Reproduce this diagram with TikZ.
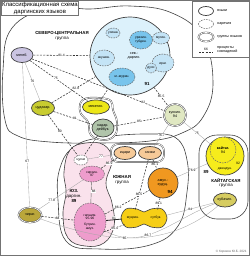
\documentclass[tikz,border=0pt]{standalone}
\usepackage{fontspec}
\setmainfont{Liberation Sans}
\usetikzlibrary{shapes.geometric, positioning, calc}

\definecolor{megebfill}{RGB}{202,196,226}
\definecolor{cudfill}{RGB}{200,204,48}
\definecolor{mekegfill}{RGB}{236,230,24}
\definecolor{kadarfill}{RGB}{176,196,170}
\definecolor{lgreenfill}{RGB}{224,232,194}
\definecolor{northfill}{RGB}{220,241,251}
\definecolor{dialfill}{RGB}{120,196,236}
\definecolor{diallight}{RGB}{196,228,246}
\definecolor{chiragfill}{RGB}{186,166,58}
\definecolor{peachfill}{RGB}{246,202,152}
\definecolor{orangefill}{RGB}{240,152,32}
\definecolor{nutfill}{RGB}{246,206,22}
\definecolor{swfill}{RGB}{250,226,236}
\definecolor{pinkfill}{RGB}{238,156,204}
\definecolor{kaitagfill}{RGB}{246,236,28}
\definecolor{kubfill}{RGB}{214,204,96}

\newcommand{\lblfont}{\fontsize{10.5}{11.5}\selectfont}
\newcommand{\dlfont}{\fontsize{9.5}{10.5}\selectfont}
\newcommand{\pctfont}{\fontsize{9.5}{10}\selectfont}
\newcommand{\grpfont}{\fontsize{12.5}{14}\selectfont}
\newcommand{\legfont}{\fontsize{10.5}{11.5}\selectfont}
\newcommand{\ttlfont}{\fontsize{17}{19}\selectfont}

\begin{document}
\begin{tikzpicture}[x=1mm, y=1mm,
    lang/.style={ellipse, draw=black!75, line width=0.7mm, inner sep=0pt, align=center, font=\lblfont},
    dial/.style={ellipse, draw=black!60, line width=0.5mm, dash pattern=on 1.6mm off 1mm, inner sep=0pt, align=center, font=\dlfont},
    dbl/.style={draw=black!70, line width=0.45mm, double=white, double distance=0.7mm},
    grp/.style={draw=black!75, line width=0.6mm},
    link/.style={draw=black!80, line width=0.55mm, dash pattern=on 2mm off 1.3mm},
    faint/.style={draw=black!35, line width=0.35mm},
    bond/.style={draw=black!85, line width=0.8mm},
    pct/.style={font=\pctfont, fill=white, inner sep=0.3mm},
    glabel/.style={font=\grpfont, align=center}
]
\useasboundingbox (0,0) rectangle (250,-256);

% ==================== Frame and group outlines ====================
\draw[black!55, line width=1mm] (0.5,-0.5) rectangle (249.5,-255.5);

\draw[grp] plot[smooth cycle, tension=0.7] coordinates {(5,-120) (3,-70) (12,-28) (50,-8) (90,-9) (130,-6) (172,-13) (203,-38) (213,-83) (203,-117) (182,-133) (150,-141) (100,-143) (50,-142) (18,-136)};
\draw[grp] plot[smooth cycle, tension=0.7] coordinates {(58,-200) (60,-168) (75,-146) (105,-137) (150,-134) (176,-138) (187,-160) (187,-192) (178,-226) (150,-245) (100,-249) (66,-241)};
\draw[grp, fill=swfill] plot[smooth cycle, tension=0.7] coordinates {(64,-172) (70,-150) (86,-143) (104,-145) (112,-160) (106,-183) (112,-203) (114,-226) (104,-243) (85,-246) (68,-238) (63,-215) (66,-192)};
\draw[grp, rounded corners=18mm] (199,-135) rectangle (248,-219);
\draw[dbl, fill=white] plot[smooth cycle, tension=0.7] coordinates {(80,-104) (86,-98.5) (100,-98) (111,-101) (113,-110) (117,-122) (115,-135) (104,-140) (91,-135) (88,-122) (81,-114)};
\draw[dbl, fill=white, rounded corners=7mm] (111,-144) rectangle (164,-162);
\draw[grp, fill=nutfill] plot[smooth cycle, tension=0.6] coordinates {(121,-218) (126,-209) (137,-209) (144,-212) (151,-209) (162,-209) (167,-218) (162,-227) (151,-227) (144,-224) (137,-227) (126,-227)};

% ==================== North-central group ====================
\node[glabel] (nclbl) at (62,-36) {\textbf{СЕВЕРО-ЦЕНТРАЛЬНАЯ}\\группа};
\node[lang, fill=megebfill, minimum width=22mm, minimum height=15mm] (megeb) at (22,-55) {мегеб.};

\node[lang, fill=northfill, minimum width=80mm, minimum height=78mm] (north) at (130,-56) {};
\node[font=\lblfont, align=center] (northlbl) at (134,-56) {сев.-\\даргин.};
\node[font=\grpfont\bfseries] (north91) at (147,-84) {91};
\node[dial, fill=diallight, minimum width=14mm, minimum height=10mm] (usish) at (113,-33) {усиша};
\node[dial, fill=dialfill, minimum width=23mm, minimum height=18mm] (urakh) at (141,-40) {урахин.\\губден.};
\node[dial, fill=diallight, minimum width=17mm, minimum height=12mm] (mugin) at (161,-38) {мугин.};
\node[dial, fill=diallight, minimum width=21mm, minimum height=16mm] (akush) at (104,-58) {акушин.};
\node[dial, fill=dialfill, minimum width=26mm, minimum height=18mm] (muer) at (122,-77) {м.-мурин.};
\node[dial, fill=diallight, minimum width=22mm, minimum height=18mm] (irag) at (163,-63) {\\ираг.};
\node[dial, fill=diallight, minimum width=11mm, minimum height=10mm] (dusi) at (151,-68) {дуси};

\node[lang, fill=cudfill, minimum width=23mm, minimum height=15mm] (cudakh) at (43,-108) {цудахар.};
\node[lang, fill=mekegfill, minimum width=27mm, minimum height=14mm] (mekeg) at (96,-107) {мекегин.};
\node[lang, fill=kadarfill, minimum width=22mm, minimum height=18mm] (kadar) at (103,-128) {кадар.\\дейбук.};
\node[lang, dbl, fill=lgreenfill, minimum size=22mm] (kunki) at (175,-115) {кункин.\\94};

% ==================== Southern group ====================
\node[glabel] (southlbl) at (122,-180) {\textbf{ЮЖНАЯ}\\группа};
\node[lang, fill=peachfill, minimum width=22mm, minimum height=13mm] (icari) at (125,-153) {ицари};
\node[lang, fill=peachfill, minimum width=23mm, minimum height=13mm] (sanzh) at (150,-153) {санжи};
\node[lang, fill=orangefill, minimum size=30mm] (amukh) at (163,-183) {амух.-\\худуц.};
\node[font=\grpfont\bfseries] (amukh94) at (170,-192) {94};
\node[ellipse, inner sep=0pt, minimum width=22mm, minimum height=17mm, font=\dlfont] (nutL) at (133,-218) {муэрин.};
\node[ellipse, inner sep=0pt, minimum width=22mm, minimum height=17mm, font=\dlfont] (nutR) at (156,-218) {сутбук.};

\node[glabel] (swlbl) at (74,-196) {\textbf{ЮЗ.}\\даргин.\\\textbf{89}};
\node[dial, fill=white, minimum width=14mm, minimum height=10mm] (cugni) at (81,-160) {цугни};
\node[dial, fill=pinkfill, minimum width=25mm, minimum height=16mm] (sirkh) at (92,-174) {сирхин.\\97};
\node[dial, fill=pinkfill, minimum width=32mm, minimum height=38mm] (hudutz) at (90,-222) {гапшим.\\95-96\\[2mm]бутрин.\\амух.};

% ==================== Kaitag group ====================
\node[lang, fill=kaitagfill, minimum size=38mm] (kaitag) at (225,-156) {};
\node[dial, fill=kaitagfill, minimum size=26mm, font=\lblfont] (kaitagd) at (223,-150) {\textbf{кайтаг.}\\94};
\node[font=\pctfont] (kaitag92) at (238,-163) {92};
\node[font=\dlfont] (dzhend) at (225,-169) {джендун.};
\node[glabel] (kaitaglbl) at (226,-183) {\textbf{КАЙТАГСКАЯ}\\группа};
\node[font=\grpfont\bfseries] (kaitag89) at (206,-172) {89};
\node[lang, fill=kubfill, minimum width=23mm, minimum height=14mm] (kubach) at (225,-200) {кубачин.};

% ==================== Isolated ====================
\node[lang, dbl, fill=chiragfill, minimum width=23mm, minimum height=15mm] (chirag) at (30,-215) {чираг.};

% ==================== Links ====================
\draw[link] (megeb) -- (north) node[pct, pos=0.5] {81.4};
\draw[link] (megeb) -- (mekeg) node[pct, pos=0.45] {75};
\draw[faint] (megeb) -- (cudakh) node[pct, pos=0.5] {76};
\draw[faint] (megeb) -- (chirag) node[pct, pos=0.68] {67};
\draw[link] (megeb) -- (kunki) node[pct, pos=0.84] {82};
\draw[link] (cudakh) -- (north) node[pct, pos=0.55] {82.8};
\draw[link] (mekeg) -- (north);
\draw[link] (cudakh) -- (kadar) node[pct, pos=0.55] {81};
\draw[link] (cudakh) -- (cugni) node[pct, pos=0.4] {80};
\draw[link] (kadar) -- (cugni);
\draw[link] (north) -- (kunki) node[pct, pos=0.5] {85.5};
\draw[link] (kadar) -- (kunki) node[pct, pos=0.5] {85};
\draw[faint] (kunki) -- (kaitag) node[pct, pos=0.5] {75};
\draw[faint] (kunki) -- (sanzh) node[pct, pos=0.5] {76.7};

\draw[faint] (amukh) -- (kaitag) node[pct, pos=0.5] {76.9};
\draw[faint] (nutR) -- (kubach) node[pct, pos=0.5] {84};
\draw[faint] (hudutz) to[out=-30, in=-160] node[pct, pos=0.4] {86.7} (kubach);
\draw[faint] (chirag) to[out=-20, in=-140] node[pct, pos=0.45] {65} (kubach);

\draw[faint] (chirag) -- (sirkh) node[pct, pos=0.3] {77.8};
\draw[link] (chirag) -- (hudutz) node[pct, pos=0.5] {84};
\draw[draw=black!60, line width=0.4mm] (sirkh) -- (hudutz) node[pct, right, pos=0.45] {88};
\draw[faint] (cugni) -- (icari) node[pct, pos=0.5] {77};
\draw[link] (sirkh) -- (icari) node[pct, pos=0.5] {86.9};
\draw[link] (hudutz) -- (amukh) node[pct, pos=0.3] {86.2};
\draw[bond] (hudutz) -- (nutL) node[pct, above, pos=0.5] {81};
\draw[link] (hudutz.-35) -- (nutL.-140) node[pct, pos=0.5] {86.4};
\draw[link] (sanzh) -- (amukh) node[pct, pos=0.5] {86.1};
\draw[link] (sanzh) -- (nutL) node[pct, pos=0.7] {86.5};
\draw[link] (amukh) -- (nutR) node[pct, pos=0.5] {89.1};

% ==================== Title and legend ====================
\node[draw=black!55, line width=0.4mm, fill=white, align=center, font=\ttlfont, inner sep=1mm, anchor=north west] (title) at (1,-1) {Классификационная схема\\даргинских языков};

\node[draw=black!55, line width=0.4mm, fill=white, minimum width=57mm, minimum height=56mm, anchor=north east] (legend) at (249,-1) {};
\node[lang, minimum width=15mm, minimum height=9mm] (lglang) at (206,-11) {};
\node[font=\legfont, anchor=west] (lglangtxt) at (216,-11) {языки};
\node[dial, minimum width=15mm, minimum height=9mm] (lgdial) at (206,-24) {};
\node[font=\legfont, anchor=west] (lgdialtxt) at (216,-24) {наречия};
\node[lang, dbl, minimum width=15mm, minimum height=9mm] (lggrp) at (206,-37) {};
\node[font=\legfont, anchor=west] (lggrptxt) at (216,-37) {группы языков};
\coordinate (lgA) at (199,-52);
\coordinate (lgB) at (213,-52);
\draw[link] (lgA) -- (lgB) node[font=\pctfont, midway, above] {66};
\node[font=\legfont, anchor=west, align=left] (lgpcttxt) at (216,-50) {проценты\\совпадений};

\node[font=\fontsize{9}{10}\selectfont, text=black!60, anchor=south east] (copy) at (248,-254) {© Коряков Ю.Б. 2021};

\end{tikzpicture}
\end{document}
